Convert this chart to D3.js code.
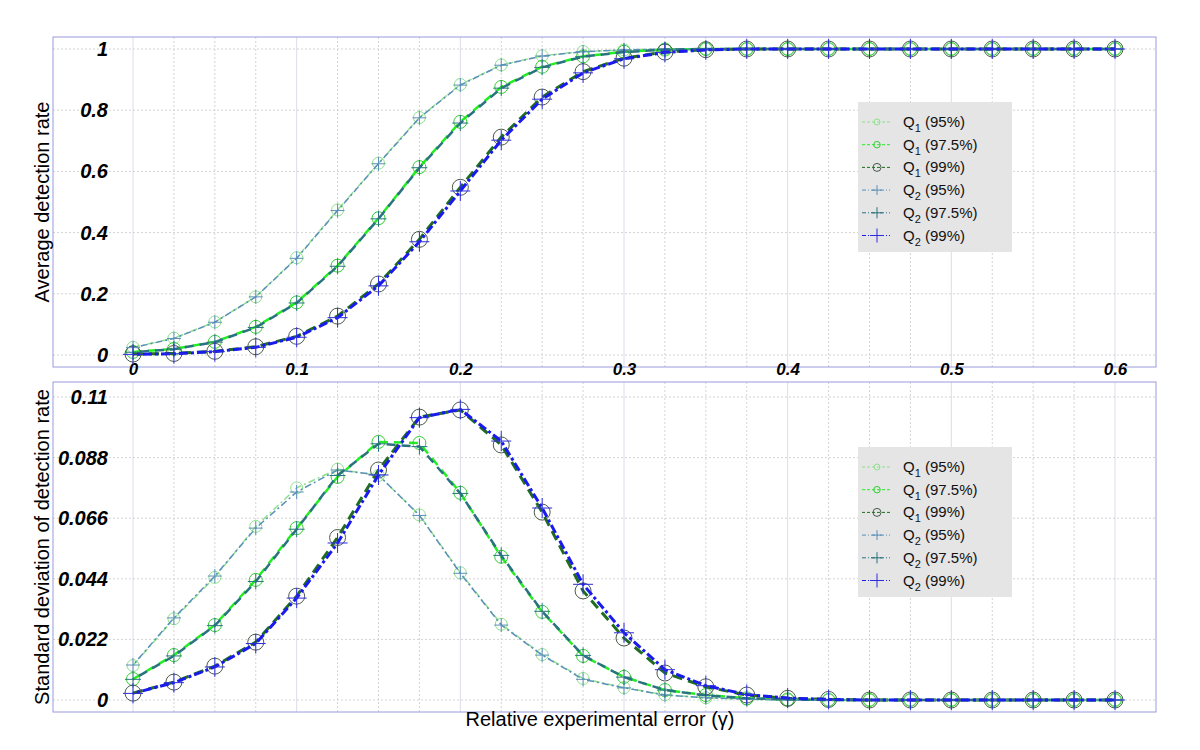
<!DOCTYPE html>
<html>
<head>
<meta charset="utf-8">
<script src="https://cdn.jsdelivr.net/npm/d3@7"></script>
<style>
  body { margin: 0; background: #fff; }
  svg { font-family: "Liberation Sans", Arial, sans-serif; }
</style>
</head>
<body>
<div class="chart"></div>
<script>
// relative experimental error (gamma)
const gammas = [0, 0.025, 0.05, 0.075, 0.1, 0.125, 0.15, 0.175, 0.2, 0.225, 0.25, 0.275, 0.3,
  0.325, 0.35, 0.375, 0.4, 0.425, 0.45, 0.475, 0.5, 0.525, 0.55, 0.575, 0.6]

const xTicks = [0, 0.1, 0.2, 0.3, 0.4, 0.5, 0.6]
const meanTicks = [0, 0.2, 0.4, 0.6, 0.8, 1]
const stdTicks = [0, 0.022, 0.044, 0.066, 0.088, 0.11]

const seriesNames = ['Q1 (95%)', 'Q1 (97.5%)', 'Q1 (99%)', 'Q2 (95%)', 'Q2 (97.5%)', 'Q2 (99%)']

// average detection rate
const meanQ1_95 = [0.025, 0.055, 0.108, 0.19, 0.318, 0.474, 0.627, 0.776, 0.884, 0.948, 0.978, 0.992, 0.997, 1, 1, 1, 1, 1, 1, 1, 1, 1, 1, 1, 1]
const meanQ1_975 = [0.010, 0.020, 0.043, 0.092, 0.172, 0.292, 0.447, 0.614, 0.762, 0.876, 0.942, 0.976, 0.991, 0.998, 1, 1, 1, 1, 1, 1, 1, 1, 1, 1, 1]
const meanQ1_99 = [0.003, 0.005, 0.012, 0.027, 0.061, 0.127, 0.232, 0.378, 0.548, 0.712, 0.843, 0.926, 0.970, 0.990, 0.998, 1, 1, 1, 1, 1, 1, 1, 1, 1, 1]
const meanQ2_95 = [0.024, 0.054, 0.107, 0.19, 0.316, 0.472, 0.625, 0.775, 0.882, 0.947, 0.977, 0.991, 0.997, 1, 1, 1, 1, 1, 1, 1, 1, 1, 1, 1, 1]
const meanQ2_975 = [0.009, 0.019, 0.042, 0.090, 0.170, 0.290, 0.445, 0.612, 0.758, 0.872, 0.940, 0.975, 0.990, 0.998, 1, 1, 1, 1, 1, 1, 1, 1, 1, 1, 1]
const meanQ2_99 = [0.002, 0.004, 0.011, 0.025, 0.058, 0.122, 0.226, 0.370, 0.536, 0.702, 0.836, 0.922, 0.968, 0.989, 0.997, 1, 1, 1, 1, 1, 1, 1, 1, 1, 1]

// standard deviation of detection rate
const stdQ1_95 = [0.0125, 0.0295, 0.0445, 0.063, 0.077, 0.0838, 0.0815, 0.0672, 0.0462, 0.0275, 0.0165, 0.0078, 0.0045, 0.0019, 0.0008, 0.0003, 0, 0, 0, 0, 0, 0, 0, 0, 0]
const stdQ1_975 = [0.0076, 0.0163, 0.0272, 0.0436, 0.0624, 0.081, 0.0937, 0.0933, 0.0752, 0.052, 0.032, 0.016, 0.0084, 0.0036, 0.0018, 0.0006, 0.0002, 0, 0, 0, 0, 0, 0, 0, 0]
const stdQ1_99 = [0.0025, 0.0065, 0.0123, 0.021, 0.0377, 0.059, 0.0835, 0.1027, 0.1053, 0.0926, 0.0682, 0.0396, 0.0225, 0.0098, 0.0048, 0.0018, 0.0006, 0.0002, 0, 0, 0, 0, 0, 0, 0]
const stdQ2_95 = [0.0127, 0.0298, 0.045, 0.0624, 0.0755, 0.0835, 0.0817, 0.067, 0.046, 0.0272, 0.0163, 0.0075, 0.0044, 0.0018, 0.0008, 0.0003, 0, 0, 0, 0, 0, 0, 0, 0, 0]
const stdQ2_975 = [0.0075, 0.016, 0.027, 0.043, 0.062, 0.0815, 0.093, 0.092, 0.075, 0.0525, 0.0322, 0.0162, 0.0083, 0.0036, 0.0017, 0.0006, 0.0002, 0, 0, 0, 0, 0, 0, 0, 0]
const stdQ2_99 = [0.0024, 0.0063, 0.012, 0.0205, 0.037, 0.057, 0.0817, 0.1025, 0.1055, 0.094, 0.0697, 0.042, 0.0244, 0.011, 0.0052, 0.002, 0.0007, 0.0002, 0, 0, 0, 0, 0, 0, 0]

const styles = [
  {color: '#8fe08f', dash: '7,3,2,3', offset: 0, width: 1.5, marker: 'circle', size: 6, mstroke: '#8fe08f'},
  {color: '#22ee22', dash: '9,6', offset: 0, width: 2.5, marker: 'circle', size: 6.5, mstroke: '#33cc33'},
  {color: '#1e6e1e', dash: '10,6', offset: 0, width: 3, marker: 'circle', size: 8, mstroke: '#4a5a4a'},
  {color: '#5a8fb8', dash: '7,3,2,3', offset: 7, width: 1.5, marker: 'plus', size: 7, mstroke: '#5a8fb8'},
  {color: '#2a7280', dash: '9,6', offset: 8, width: 2.5, marker: 'plus', size: 8, mstroke: '#2a7280'},
  {color: '#1a1aee', dash: '9,3,3,3', offset: 8, width: 3, marker: 'plus', size: 10, mstroke: '#2a2ae0'}
]

const panels = [
  {top: 37, bottom: 367, ticks: meanTicks, domain: [0, 1], yTop: 49, yBottom: 355,
   title: 'Average detection rate', xLabels: true, legendTop: 102,
   series: [meanQ1_95, meanQ1_975, meanQ1_99, meanQ2_95, meanQ2_975, meanQ2_99]},
  {top: 382, bottom: 712, ticks: stdTicks, domain: [0, 0.11], yTop: 397, yBottom: 700,
   title: 'Standard deviation of detection rate', xLabels: false, legendTop: 447,
   series: [stdQ1_95, stdQ1_975, stdQ1_99, stdQ2_95, stdQ2_975, stdQ2_99]}
]

const width = 1200, height = 750
const boxLeft = 53, boxRight = 1156

const svg = d3.select('.chart').append('svg')
  .attr('width', width)
  .attr('height', height)

const x = d3.scaleLinear().domain([0, 0.6]).range([133, 1115])

function drawMarker(g, style, cx, cy, scale) {
  const s = style.size * scale
  if (style.marker === 'circle') {
    g.append('circle')
      .attr('cx', cx).attr('cy', cy).attr('r', s)
      .style('fill', 'none')
      .style('stroke', style.mstroke)
      .style('stroke-width', 1)
  } else {
    g.append('path')
      .attr('d', `M${cx - s},${cy}H${cx + s}M${cx},${cy - s}V${cy + s}`)
      .style('fill', 'none')
      .style('stroke', style.mstroke)
      .style('stroke-width', 1)
  }
}

panels.forEach(p => {
  const y = d3.scaleLinear().domain(p.domain).range([p.yBottom, p.yTop])
  const g = svg.append('g')

  // vertical grid every 0.025, solid at labelled ticks
  const isTick = d => xTicks.some(t => Math.abs(t - d) < 1e-9)
  g.append('g').selectAll('line')
    .data(gammas)
    .enter().append('line')
    .attr('x1', d => x(d)).attr('x2', d => x(d))
    .attr('y1', p.top).attr('y2', p.bottom)
    .style('stroke', d => isTick(d) ? '#dcdcec' : '#d4d4d4')
    .style('stroke-dasharray', d => isTick(d) ? null : '2,2')

  // horizontal grid
  g.append('g').selectAll('line')
    .data(p.ticks)
    .enter().append('line')
    .attr('x1', boxLeft).attr('x2', boxRight)
    .attr('y1', d => y(d)).attr('y2', d => y(d))
    .style('stroke', '#d4d4d4')
    .style('stroke-dasharray', '2,2')

  // box
  g.append('rect')
    .attr('x', boxLeft).attr('y', p.top)
    .attr('width', boxRight - boxLeft).attr('height', p.bottom - p.top)
    .style('fill', 'none')
    .style('stroke', '#9a9ae0')

  // y tick labels
  const yAxis = g.append('g')
    .attr('transform', 'translate(108,0)')
    .call(d3.axisLeft(y).tickValues(p.ticks).tickSize(0).tickPadding(0).tickFormat(d3.format('~g')))
  yAxis.select('.domain').remove()
  yAxis.selectAll('text')
    .style('font-family', '"Liberation Sans", Arial, sans-serif')
    .style('font-size', '20px')
    .style('font-weight', 'bold')
    .style('font-style', 'italic')
    .style('fill', '#000')

  if (p.xLabels) {
    const xAxis = g.append('g')
      .attr('transform', `translate(0,${p.bottom - 4})`)
      .call(d3.axisBottom(x).tickValues(xTicks).tickSize(0).tickPadding(0).tickFormat(d3.format('~g')))
    xAxis.select('.domain').remove()
    xAxis.selectAll('text')
      .style('font-family', '"Liberation Sans", Arial, sans-serif')
      .style('font-size', '17px')
      .style('font-weight', 'bold')
      .style('font-style', 'italic')
      .style('fill', '#000')
  }

  // y title
  g.append('text')
    .attr('transform', `translate(49,${(p.top + p.bottom) / 2}) rotate(-90)`)
    .attr('text-anchor', 'middle')
    .style('font-size', '20px')
    .text(p.title)

  // series lines and markers
  p.series.forEach((vals, i) => {
    const st = styles[i]
    const pts = gammas.map((gm, j) => [gm, vals[j]])
    const line = d3.line().x(d => x(d[0])).y(d => y(d[1]))
    g.append('path')
      .datum(pts)
      .attr('d', line)
      .style('fill', 'none')
      .style('stroke', st.color)
      .style('stroke-width', st.width)
      .style('stroke-dasharray', st.dash)
      .style('stroke-dashoffset', st.offset)
    const mg = g.append('g')
    pts.forEach(d => drawMarker(mg, st, x(d[0]), y(d[1]), 1))
  })

  // legend
  const lg = g.append('g').attr('transform', `translate(858,${p.legendTop})`)
  lg.append('rect')
    .attr('width', 154).attr('height', 150)
    .style('fill', '#e5e5e5')
  seriesNames.forEach((name, i) => {
    const st = styles[i]
    const ly = 20 + i * 22.7
    lg.append('line')
      .attr('x1', 4).attr('x2', 32)
      .attr('y1', ly).attr('y2', ly)
      .style('stroke', st.color)
      .style('stroke-width', 1)
      .style('stroke-dasharray', st.marker === 'circle' ? '3,2' : '4,2,1,2')
    drawMarker(lg, st, 19, ly, st.marker === 'circle' ? 0.5 : 0.7)
    const t = lg.append('text')
      .attr('x', 45).attr('y', ly + 5)
      .style('font-size', '15px')
      .style('fill', '#111')
    t.append('tspan').text('Q')
    t.append('tspan').attr('dy', 5).style('font-size', '11px').text(name.slice(1, 2))
    t.append('tspan').attr('dy', -5).text(' ' + name.slice(3))
  })
})

// x title
svg.append('text')
  .attr('x', 600).attr('y', 726)
  .attr('text-anchor', 'middle')
  .style('font-size', '20px')
  .text('Relative experimental error (γ)')
</script>
</body>
</html>
